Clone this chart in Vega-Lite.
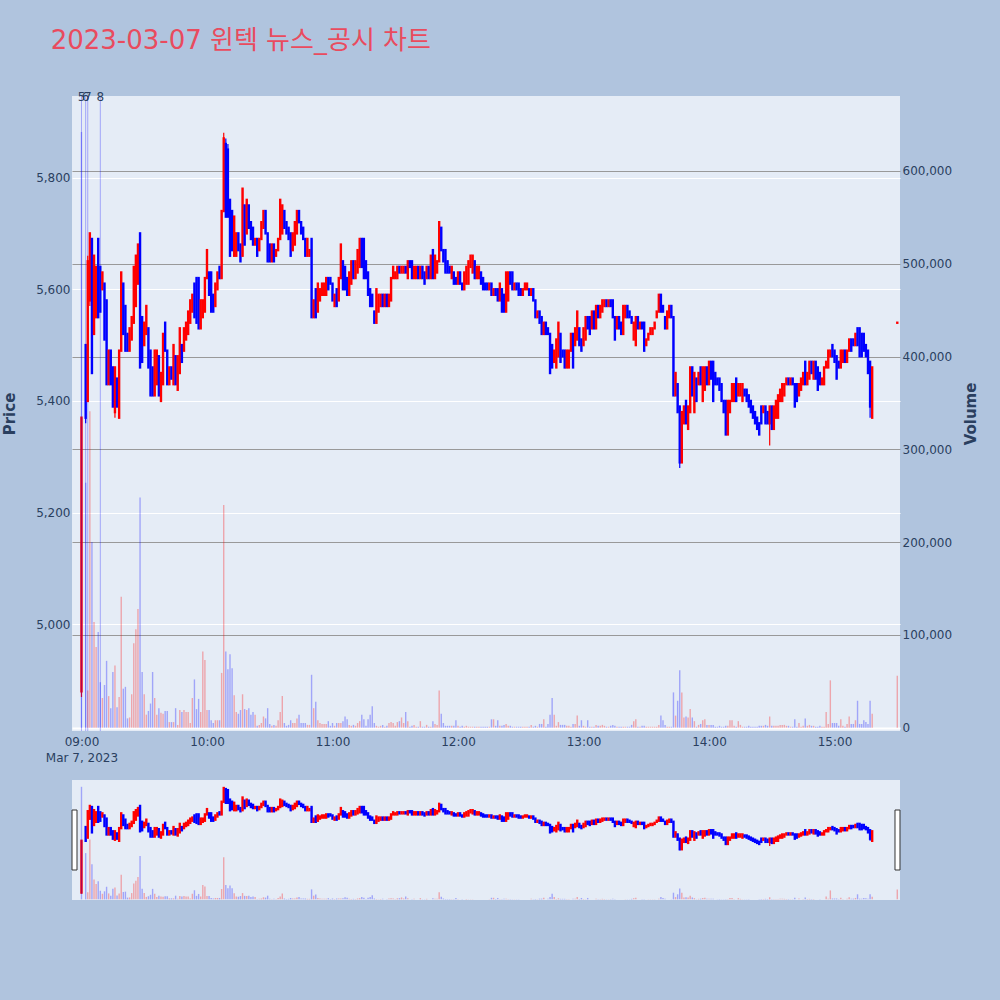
{
  "$schema": "https://vega.github.io/schema/vega-lite/v6.json",
  "background": "#B0C4DE",
  "padding": {"left": 2, "top": 28, "right": 21, "bottom": 99},
  "title": {
    "text": "2023-03-07 윈텍 뉴스_공시 차트",
    "anchor": "start",
    "font": "DejaVu Sans, Noto Sans CJK KR",
    "fontSize": 26,
    "fontWeight": "normal",
    "color": "#E94B5E",
    "dx": 48,
    "offset": 37
  },
  "data": {
    "format": {"parse": {"t": "date:'%Y-%m-%d %H:%M'"}},
    "values": [
      {"t":"2023-03-07 09:00","n":"5"},
      {"t":"2023-03-07 09:02","n":"6"},
      {"t":"2023-03-07 09:03","n":"7"},
      {"t":"2023-03-07 09:09","n":"8"},
      {"t":"2023-03-07 09:00","o":4880,"h":5370,"l":4870,"c":5370,"v":642000},
      {"t":"2023-03-07 09:02","o":5500,"h":5500,"l":5360,"c":5370,"v":264000},
      {"t":"2023-03-07 09:03","o":5400,"h":5660,"l":5400,"c":5650,"v":40000},
      {"t":"2023-03-07 09:04","o":5580,"h":5700,"l":5570,"c":5700,"v":341000},
      {"t":"2023-03-07 09:05","o":5690,"h":5690,"l":5450,"c":5450,"v":200000},
      {"t":"2023-03-07 09:06","o":5520,"h":5660,"l":5520,"c":5660,"v":114000},
      {"t":"2023-03-07 09:07","o":5550,"h":5640,"l":5550,"c":5640,"v":87000},
      {"t":"2023-03-07 09:08","o":5690,"h":5690,"l":5550,"c":5550,"v":103000},
      {"t":"2023-03-07 09:09","o":5640,"h":5640,"l":5560,"c":5560,"v":49000},
      {"t":"2023-03-07 09:10","o":5600,"h":5630,"l":5600,"c":5630,"v":32000},
      {"t":"2023-03-07 09:11","o":5610,"h":5610,"l":5510,"c":5510,"v":46000},
      {"t":"2023-03-07 09:12","o":5580,"h":5580,"l":5430,"c":5430,"v":72000},
      {"t":"2023-03-07 09:13","o":5430,"h":5490,"l":5430,"c":5490,"v":34000},
      {"t":"2023-03-07 09:14","o":5490,"h":5490,"l":5430,"c":5430,"v":21000},
      {"t":"2023-03-07 09:15","o":5460,"h":5460,"l":5390,"c":5390,"v":60000},
      {"t":"2023-03-07 09:16","o":5380,"h":5460,"l":5370,"c":5460,"v":67000},
      {"t":"2023-03-07 09:17","o":5440,"h":5440,"l":5390,"c":5390,"v":22000},
      {"t":"2023-03-07 09:18","o":5370,"h":5490,"l":5370,"c":5490,"v":33000},
      {"t":"2023-03-07 09:19","o":5490,"h":5630,"l":5490,"c":5630,"v":141000},
      {"t":"2023-03-07 09:20","o":5610,"h":5610,"l":5520,"c":5520,"v":42000},
      {"t":"2023-03-07 09:21","o":5570,"h":5570,"l":5490,"c":5490,"v":44000},
      {"t":"2023-03-07 09:22","o":5520,"h":5520,"l":5490,"c":5490,"v":10000},
      {"t":"2023-03-07 09:23","o":5490,"h":5530,"l":5490,"c":5530,"v":11000},
      {"t":"2023-03-07 09:24","o":5510,"h":5550,"l":5510,"c":5550,"v":36000},
      {"t":"2023-03-07 09:25","o":5540,"h":5640,"l":5540,"c":5640,"v":91000},
      {"t":"2023-03-07 09:26","o":5570,"h":5660,"l":5570,"c":5660,"v":106000},
      {"t":"2023-03-07 09:27","o":5610,"h":5680,"l":5610,"c":5680,"v":128000},
      {"t":"2023-03-07 09:28","o":5700,"h":5700,"l":5460,"c":5460,"v":248000},
      {"t":"2023-03-07 09:29","o":5550,"h":5550,"l":5470,"c":5470,"v":60000},
      {"t":"2023-03-07 09:30","o":5500,"h":5540,"l":5500,"c":5540,"v":36000},
      {"t":"2023-03-07 09:31","o":5520,"h":5570,"l":5520,"c":5570,"v":14000},
      {"t":"2023-03-07 09:32","o":5530,"h":5530,"l":5460,"c":5460,"v":18000},
      {"t":"2023-03-07 09:33","o":5490,"h":5490,"l":5410,"c":5410,"v":26000},
      {"t":"2023-03-07 09:34","o":5460,"h":5460,"l":5410,"c":5410,"v":60000},
      {"t":"2023-03-07 09:35","o":5410,"h":5490,"l":5410,"c":5490,"v":32000},
      {"t":"2023-03-07 09:36","o":5430,"h":5490,"l":5430,"c":5490,"v":14000},
      {"t":"2023-03-07 09:37","o":5480,"h":5480,"l":5410,"c":5410,"v":21000},
      {"t":"2023-03-07 09:38","o":5400,"h":5450,"l":5400,"c":5450,"v":16000},
      {"t":"2023-03-07 09:39","o":5430,"h":5520,"l":5430,"c":5520,"v":15000},
      {"t":"2023-03-07 09:40","o":5540,"h":5540,"l":5490,"c":5490,"v":18000},
      {"t":"2023-03-07 09:41","o":5490,"h":5490,"l":5430,"c":5430,"v":18000},
      {"t":"2023-03-07 09:42","o":5430,"h":5460,"l":5430,"c":5460,"v":6000},
      {"t":"2023-03-07 09:43","o":5460,"h":5460,"l":5440,"c":5440,"v":6000},
      {"t":"2023-03-07 09:44","o":5430,"h":5500,"l":5430,"c":5500,"v":6000},
      {"t":"2023-03-07 09:45","o":5480,"h":5480,"l":5430,"c":5430,"v":21000},
      {"t":"2023-03-07 09:46","o":5420,"h":5480,"l":5420,"c":5480,"v":3000},
      {"t":"2023-03-07 09:47","o":5450,"h":5530,"l":5450,"c":5530,"v":19000},
      {"t":"2023-03-07 09:48","o":5500,"h":5500,"l":5470,"c":5470,"v":17000},
      {"t":"2023-03-07 09:49","o":5490,"h":5530,"l":5490,"c":5530,"v":19000},
      {"t":"2023-03-07 09:50","o":5510,"h":5540,"l":5510,"c":5540,"v":17000},
      {"t":"2023-03-07 09:51","o":5520,"h":5560,"l":5520,"c":5560,"v":17000},
      {"t":"2023-03-07 09:52","o":5540,"h":5580,"l":5540,"c":5580,"v":5000},
      {"t":"2023-03-07 09:53","o":5560,"h":5590,"l":5560,"c":5590,"v":32000},
      {"t":"2023-03-07 09:54","o":5610,"h":5610,"l":5550,"c":5550,"v":52000},
      {"t":"2023-03-07 09:55","o":5620,"h":5620,"l":5540,"c":5540,"v":20000},
      {"t":"2023-03-07 09:56","o":5620,"h":5620,"l":5530,"c":5530,"v":31000},
      {"t":"2023-03-07 09:57","o":5530,"h":5580,"l":5530,"c":5580,"v":17000},
      {"t":"2023-03-07 09:58","o":5550,"h":5580,"l":5550,"c":5580,"v":82000},
      {"t":"2023-03-07 09:59","o":5560,"h":5620,"l":5560,"c":5620,"v":73000},
      {"t":"2023-03-07 10:00","o":5620,"h":5670,"l":5620,"c":5670,"v":19000},
      {"t":"2023-03-07 10:01","o":5630,"h":5630,"l":5590,"c":5590,"v":19000},
      {"t":"2023-03-07 10:02","o":5630,"h":5630,"l":5560,"c":5560,"v":8000},
      {"t":"2023-03-07 10:03","o":5590,"h":5590,"l":5560,"c":5560,"v":5000},
      {"t":"2023-03-07 10:04","o":5570,"h":5610,"l":5570,"c":5610,"v":8000},
      {"t":"2023-03-07 10:05","o":5600,"h":5630,"l":5600,"c":5630,"v":8000},
      {"t":"2023-03-07 10:06","o":5640,"h":5640,"l":5620,"c":5620,"v":8000},
      {"t":"2023-03-07 10:07","o":5620,"h":5740,"l":5620,"c":5740,"v":59000},
      {"t":"2023-03-07 10:08","o":5740,"h":5880,"l":5740,"c":5870,"v":240000},
      {"t":"2023-03-07 10:09","o":5860,"h":5870,"l":5730,"c":5730,"v":82000},
      {"t":"2023-03-07 10:10","o":5850,"h":5860,"l":5730,"c":5730,"v":63000},
      {"t":"2023-03-07 10:11","o":5760,"h":5760,"l":5660,"c":5660,"v":79000},
      {"t":"2023-03-07 10:12","o":5740,"h":5740,"l":5670,"c":5670,"v":64000},
      {"t":"2023-03-07 10:13","o":5660,"h":5730,"l":5660,"c":5730,"v":35000},
      {"t":"2023-03-07 10:14","o":5660,"h":5700,"l":5660,"c":5700,"v":17000},
      {"t":"2023-03-07 10:15","o":5700,"h":5700,"l":5670,"c":5670,"v":15000},
      {"t":"2023-03-07 10:16","o":5680,"h":5680,"l":5650,"c":5650,"v":19000},
      {"t":"2023-03-07 10:17","o":5660,"h":5780,"l":5660,"c":5780,"v":36000},
      {"t":"2023-03-07 10:18","o":5750,"h":5750,"l":5680,"c":5680,"v":20000},
      {"t":"2023-03-07 10:19","o":5700,"h":5760,"l":5700,"c":5760,"v":19000},
      {"t":"2023-03-07 10:20","o":5750,"h":5750,"l":5710,"c":5710,"v":21000},
      {"t":"2023-03-07 10:21","o":5720,"h":5720,"l":5690,"c":5690,"v":14000},
      {"t":"2023-03-07 10:22","o":5710,"h":5710,"l":5680,"c":5680,"v":17000},
      {"t":"2023-03-07 10:23","o":5680,"h":5690,"l":5680,"c":5690,"v":14000},
      {"t":"2023-03-07 10:24","o":5690,"h":5690,"l":5660,"c":5660,"v":2000},
      {"t":"2023-03-07 10:25","o":5670,"h":5690,"l":5670,"c":5690,"v":3000},
      {"t":"2023-03-07 10:26","o":5690,"h":5720,"l":5690,"c":5720,"v":5000},
      {"t":"2023-03-07 10:27","o":5710,"h":5740,"l":5710,"c":5740,"v":12000},
      {"t":"2023-03-07 10:28","o":5740,"h":5740,"l":5700,"c":5700,"v":10000},
      {"t":"2023-03-07 10:29","o":5700,"h":5700,"l":5650,"c":5650,"v":21000},
      {"t":"2023-03-07 10:30","o":5680,"h":5680,"l":5650,"c":5650,"v":4000},
      {"t":"2023-03-07 10:31","o":5650,"h":5680,"l":5650,"c":5680,"v":2000},
      {"t":"2023-03-07 10:32","o":5680,"h":5680,"l":5650,"c":5650,"v":3000},
      {"t":"2023-03-07 10:33","o":5660,"h":5670,"l":5660,"c":5670,"v":2000},
      {"t":"2023-03-07 10:34","o":5670,"h":5690,"l":5670,"c":5690,"v":8000},
      {"t":"2023-03-07 10:35","o":5690,"h":5760,"l":5690,"c":5760,"v":17000},
      {"t":"2023-03-07 10:36","o":5700,"h":5750,"l":5700,"c":5750,"v":34000},
      {"t":"2023-03-07 10:37","o":5740,"h":5740,"l":5710,"c":5710,"v":5000},
      {"t":"2023-03-07 10:38","o":5720,"h":5720,"l":5700,"c":5700,"v":2000},
      {"t":"2023-03-07 10:39","o":5710,"h":5710,"l":5690,"c":5690,"v":3000},
      {"t":"2023-03-07 10:40","o":5700,"h":5700,"l":5660,"c":5660,"v":8000},
      {"t":"2023-03-07 10:41","o":5670,"h":5700,"l":5670,"c":5700,"v":5000},
      {"t":"2023-03-07 10:42","o":5680,"h":5720,"l":5680,"c":5720,"v":5000},
      {"t":"2023-03-07 10:43","o":5700,"h":5740,"l":5700,"c":5740,"v":10000},
      {"t":"2023-03-07 10:44","o":5740,"h":5740,"l":5720,"c":5720,"v":14000},
      {"t":"2023-03-07 10:45","o":5720,"h":5720,"l":5700,"c":5700,"v":5000},
      {"t":"2023-03-07 10:46","o":5710,"h":5710,"l":5690,"c":5690,"v":5000},
      {"t":"2023-03-07 10:47","o":5690,"h":5690,"l":5660,"c":5660,"v":5000},
      {"t":"2023-03-07 10:48","o":5660,"h":5690,"l":5660,"c":5690,"v":3000},
      {"t":"2023-03-07 10:49","o":5660,"h":5670,"l":5660,"c":5670,"v":3000},
      {"t":"2023-03-07 10:50","o":5690,"h":5690,"l":5550,"c":5550,"v":57000},
      {"t":"2023-03-07 10:51","o":5550,"h":5580,"l":5550,"c":5580,"v":21000},
      {"t":"2023-03-07 10:52","o":5600,"h":5600,"l":5550,"c":5550,"v":28000},
      {"t":"2023-03-07 10:53","o":5560,"h":5610,"l":5560,"c":5610,"v":8000},
      {"t":"2023-03-07 10:54","o":5580,"h":5600,"l":5580,"c":5600,"v":5000},
      {"t":"2023-03-07 10:55","o":5590,"h":5610,"l":5590,"c":5610,"v":4000},
      {"t":"2023-03-07 10:56","o":5590,"h":5610,"l":5590,"c":5610,"v":4000},
      {"t":"2023-03-07 10:57","o":5590,"h":5620,"l":5590,"c":5620,"v":4000},
      {"t":"2023-03-07 10:58","o":5620,"h":5620,"l":5600,"c":5600,"v":7000},
      {"t":"2023-03-07 10:59","o":5620,"h":5620,"l":5610,"c":5610,"v":2000},
      {"t":"2023-03-07 11:00","o":5610,"h":5610,"l":5580,"c":5580,"v":5000},
      {"t":"2023-03-07 11:01","o":5570,"h":5590,"l":5570,"c":5590,"v":2000},
      {"t":"2023-03-07 11:02","o":5600,"h":5600,"l":5570,"c":5570,"v":5000},
      {"t":"2023-03-07 11:03","o":5580,"h":5620,"l":5580,"c":5620,"v":5000},
      {"t":"2023-03-07 11:04","o":5620,"h":5680,"l":5620,"c":5680,"v":5000},
      {"t":"2023-03-07 11:05","o":5650,"h":5650,"l":5600,"c":5600,"v":7000},
      {"t":"2023-03-07 11:06","o":5640,"h":5640,"l":5600,"c":5600,"v":12000},
      {"t":"2023-03-07 11:07","o":5620,"h":5620,"l":5590,"c":5590,"v":9000},
      {"t":"2023-03-07 11:08","o":5590,"h":5630,"l":5590,"c":5630,"v":3000},
      {"t":"2023-03-07 11:09","o":5610,"h":5650,"l":5610,"c":5650,"v":2000},
      {"t":"2023-03-07 11:10","o":5650,"h":5650,"l":5620,"c":5620,"v":3000},
      {"t":"2023-03-07 11:11","o":5620,"h":5650,"l":5620,"c":5650,"v":2000},
      {"t":"2023-03-07 11:12","o":5630,"h":5670,"l":5630,"c":5670,"v":5000},
      {"t":"2023-03-07 11:13","o":5640,"h":5690,"l":5640,"c":5690,"v":7000},
      {"t":"2023-03-07 11:14","o":5690,"h":5690,"l":5640,"c":5640,"v":14000},
      {"t":"2023-03-07 11:15","o":5690,"h":5690,"l":5620,"c":5620,"v":9000},
      {"t":"2023-03-07 11:16","o":5650,"h":5650,"l":5620,"c":5620,"v":2000},
      {"t":"2023-03-07 11:17","o":5630,"h":5630,"l":5590,"c":5590,"v":9000},
      {"t":"2023-03-07 11:18","o":5600,"h":5600,"l":5570,"c":5570,"v":14000},
      {"t":"2023-03-07 11:19","o":5590,"h":5590,"l":5570,"c":5570,"v":23000},
      {"t":"2023-03-07 11:20","o":5560,"h":5560,"l":5540,"c":5540,"v":5000},
      {"t":"2023-03-07 11:21","o":5540,"h":5600,"l":5540,"c":5600,"v":2000},
      {"t":"2023-03-07 11:22","o":5560,"h":5590,"l":5560,"c":5590,"v":1000},
      {"t":"2023-03-07 11:23","o":5570,"h":5590,"l":5570,"c":5590,"v":2000},
      {"t":"2023-03-07 11:24","o":5590,"h":5590,"l":5570,"c":5570,"v":3000},
      {"t":"2023-03-07 11:25","o":5570,"h":5590,"l":5570,"c":5590,"v":1000},
      {"t":"2023-03-07 11:26","o":5590,"h":5590,"l":5570,"c":5570,"v":2000},
      {"t":"2023-03-07 11:27","o":5570,"h":5590,"l":5570,"c":5590,"v":5000},
      {"t":"2023-03-07 11:28","o":5580,"h":5620,"l":5580,"c":5620,"v":6000},
      {"t":"2023-03-07 11:29","o":5620,"h":5640,"l":5620,"c":5640,"v":5000},
      {"t":"2023-03-07 11:30","o":5620,"h":5630,"l":5620,"c":5630,"v":2000},
      {"t":"2023-03-07 11:31","o":5620,"h":5640,"l":5620,"c":5640,"v":6000},
      {"t":"2023-03-07 11:32","o":5640,"h":5640,"l":5630,"c":5630,"v":7000},
      {"t":"2023-03-07 11:33","o":5630,"h":5640,"l":5630,"c":5640,"v":11000},
      {"t":"2023-03-07 11:34","o":5630,"h":5640,"l":5630,"c":5640,"v":5000},
      {"t":"2023-03-07 11:35","o":5640,"h":5640,"l":5630,"c":5630,"v":17000},
      {"t":"2023-03-07 11:36","o":5620,"h":5650,"l":5620,"c":5650,"v":7000},
      {"t":"2023-03-07 11:37","o":5650,"h":5650,"l":5640,"c":5640,"v":1000},
      {"t":"2023-03-07 11:38","o":5650,"h":5650,"l":5620,"c":5620,"v":2000},
      {"t":"2023-03-07 11:39","o":5620,"h":5640,"l":5620,"c":5640,"v":3000},
      {"t":"2023-03-07 11:40","o":5620,"h":5640,"l":5620,"c":5640,"v":1000},
      {"t":"2023-03-07 11:41","o":5640,"h":5640,"l":5620,"c":5620,"v":1000},
      {"t":"2023-03-07 11:42","o":5620,"h":5640,"l":5620,"c":5640,"v":7000},
      {"t":"2023-03-07 11:43","o":5640,"h":5640,"l":5620,"c":5620,"v":1000},
      {"t":"2023-03-07 11:44","o":5630,"h":5630,"l":5610,"c":5610,"v":1000},
      {"t":"2023-03-07 11:45","o":5620,"h":5640,"l":5620,"c":5640,"v":3000},
      {"t":"2023-03-07 11:46","o":5640,"h":5640,"l":5620,"c":5620,"v":1000},
      {"t":"2023-03-07 11:47","o":5620,"h":5660,"l":5620,"c":5660,"v":1000},
      {"t":"2023-03-07 11:48","o":5670,"h":5670,"l":5620,"c":5620,"v":7000},
      {"t":"2023-03-07 11:49","o":5620,"h":5660,"l":5620,"c":5660,"v":4000},
      {"t":"2023-03-07 11:50","o":5630,"h":5650,"l":5630,"c":5650,"v":3000},
      {"t":"2023-03-07 11:51","o":5650,"h":5720,"l":5650,"c":5720,"v":40000},
      {"t":"2023-03-07 11:52","o":5710,"h":5710,"l":5670,"c":5670,"v":15000},
      {"t":"2023-03-07 11:53","o":5670,"h":5670,"l":5650,"c":5650,"v":5000},
      {"t":"2023-03-07 11:54","o":5670,"h":5670,"l":5630,"c":5630,"v":2000},
      {"t":"2023-03-07 11:55","o":5650,"h":5650,"l":5630,"c":5630,"v":2000},
      {"t":"2023-03-07 11:56","o":5640,"h":5640,"l":5630,"c":5630,"v":2000},
      {"t":"2023-03-07 11:57","o":5620,"h":5640,"l":5620,"c":5640,"v":2000},
      {"t":"2023-03-07 11:58","o":5630,"h":5630,"l":5610,"c":5610,"v":2000},
      {"t":"2023-03-07 11:59","o":5620,"h":5620,"l":5610,"c":5610,"v":8000},
      {"t":"2023-03-07 12:00","o":5610,"h":5630,"l":5610,"c":5630,"v":2000},
      {"t":"2023-03-07 12:01","o":5630,"h":5630,"l":5610,"c":5610,"v":1000},
      {"t":"2023-03-07 12:02","o":5610,"h":5610,"l":5600,"c":5600,"v":2000},
      {"t":"2023-03-07 12:03","o":5600,"h":5630,"l":5600,"c":5630,"v":1000},
      {"t":"2023-03-07 12:04","o":5610,"h":5640,"l":5610,"c":5640,"v":2000},
      {"t":"2023-03-07 12:05","o":5610,"h":5650,"l":5610,"c":5650,"v":1000},
      {"t":"2023-03-07 12:06","o":5640,"h":5660,"l":5640,"c":5660,"v":1000},
      {"t":"2023-03-07 12:07","o":5630,"h":5660,"l":5630,"c":5660,"v":1000},
      {"t":"2023-03-07 12:08","o":5650,"h":5650,"l":5620,"c":5620,"v":1000},
      {"t":"2023-03-07 12:09","o":5620,"h":5640,"l":5620,"c":5640,"v":1000},
      {"t":"2023-03-07 12:10","o":5620,"h":5640,"l":5620,"c":5640,"v":1000},
      {"t":"2023-03-07 12:11","o":5630,"h":5630,"l":5610,"c":5610,"v":1000},
      {"t":"2023-03-07 12:12","o":5620,"h":5620,"l":5600,"c":5600,"v":1000},
      {"t":"2023-03-07 12:13","o":5610,"h":5610,"l":5600,"c":5600,"v":1000},
      {"t":"2023-03-07 12:14","o":5610,"h":5610,"l":5600,"c":5600,"v":1000},
      {"t":"2023-03-07 12:15","o":5600,"h":5610,"l":5600,"c":5610,"v":1000},
      {"t":"2023-03-07 12:16","o":5610,"h":5610,"l":5590,"c":5590,"v":9000},
      {"t":"2023-03-07 12:17","o":5590,"h":5600,"l":5590,"c":5600,"v":9000},
      {"t":"2023-03-07 12:18","o":5600,"h":5600,"l":5590,"c":5590,"v":2000},
      {"t":"2023-03-07 12:19","o":5600,"h":5600,"l":5580,"c":5580,"v":8000},
      {"t":"2023-03-07 12:20","o":5580,"h":5610,"l":5580,"c":5610,"v":2000},
      {"t":"2023-03-07 12:21","o":5600,"h":5600,"l":5560,"c":5560,"v":2000},
      {"t":"2023-03-07 12:22","o":5590,"h":5590,"l":5560,"c":5560,"v":3000},
      {"t":"2023-03-07 12:23","o":5560,"h":5630,"l":5560,"c":5630,"v":4000},
      {"t":"2023-03-07 12:24","o":5580,"h":5630,"l":5580,"c":5630,"v":2000},
      {"t":"2023-03-07 12:25","o":5630,"h":5630,"l":5610,"c":5610,"v":2000},
      {"t":"2023-03-07 12:26","o":5630,"h":5630,"l":5600,"c":5600,"v":1000},
      {"t":"2023-03-07 12:27","o":5600,"h":5610,"l":5600,"c":5610,"v":1000},
      {"t":"2023-03-07 12:28","o":5610,"h":5610,"l":5600,"c":5600,"v":1000},
      {"t":"2023-03-07 12:29","o":5610,"h":5610,"l":5590,"c":5590,"v":1000},
      {"t":"2023-03-07 12:30","o":5600,"h":5600,"l":5590,"c":5590,"v":1000},
      {"t":"2023-03-07 12:31","o":5590,"h":5600,"l":5590,"c":5600,"v":1000},
      {"t":"2023-03-07 12:32","o":5600,"h":5610,"l":5600,"c":5610,"v":1000},
      {"t":"2023-03-07 12:33","o":5600,"h":5610,"l":5600,"c":5610,"v":1000},
      {"t":"2023-03-07 12:34","o":5600,"h":5600,"l":5590,"c":5590,"v":1000},
      {"t":"2023-03-07 12:35","o":5590,"h":5600,"l":5590,"c":5600,"v":3000},
      {"t":"2023-03-07 12:36","o":5600,"h":5600,"l":5580,"c":5580,"v":1000},
      {"t":"2023-03-07 12:37","o":5580,"h":5580,"l":5550,"c":5550,"v":2000},
      {"t":"2023-03-07 12:38","o":5550,"h":5560,"l":5550,"c":5560,"v":1000},
      {"t":"2023-03-07 12:39","o":5560,"h":5560,"l":5540,"c":5540,"v":4000},
      {"t":"2023-03-07 12:40","o":5550,"h":5550,"l":5520,"c":5520,"v":4000},
      {"t":"2023-03-07 12:41","o":5520,"h":5540,"l":5520,"c":5540,"v":9000},
      {"t":"2023-03-07 12:42","o":5540,"h":5540,"l":5520,"c":5520,"v":1000},
      {"t":"2023-03-07 12:43","o":5530,"h":5530,"l":5520,"c":5520,"v":4000},
      {"t":"2023-03-07 12:44","o":5520,"h":5520,"l":5450,"c":5450,"v":14000},
      {"t":"2023-03-07 12:45","o":5500,"h":5500,"l":5460,"c":5460,"v":32000},
      {"t":"2023-03-07 12:46","o":5470,"h":5490,"l":5470,"c":5490,"v":14000},
      {"t":"2023-03-07 12:47","o":5460,"h":5510,"l":5460,"c":5510,"v":2000},
      {"t":"2023-03-07 12:48","o":5480,"h":5540,"l":5480,"c":5540,"v":6000},
      {"t":"2023-03-07 12:49","o":5520,"h":5520,"l":5470,"c":5470,"v":3000},
      {"t":"2023-03-07 12:50","o":5490,"h":5490,"l":5480,"c":5480,"v":3000},
      {"t":"2023-03-07 12:51","o":5490,"h":5490,"l":5460,"c":5460,"v":3000},
      {"t":"2023-03-07 12:52","o":5460,"h":5490,"l":5460,"c":5490,"v":2000},
      {"t":"2023-03-07 12:53","o":5460,"h":5490,"l":5460,"c":5490,"v":2000},
      {"t":"2023-03-07 12:54","o":5490,"h":5520,"l":5490,"c":5520,"v":1000},
      {"t":"2023-03-07 12:55","o":5520,"h":5520,"l":5460,"c":5460,"v":4000},
      {"t":"2023-03-07 12:56","o":5500,"h":5530,"l":5500,"c":5530,"v":4000},
      {"t":"2023-03-07 12:57","o":5510,"h":5560,"l":5510,"c":5560,"v":13000},
      {"t":"2023-03-07 12:58","o":5530,"h":5530,"l":5500,"c":5500,"v":2000},
      {"t":"2023-03-07 12:59","o":5510,"h":5510,"l":5490,"c":5490,"v":8000},
      {"t":"2023-03-07 13:00","o":5500,"h":5530,"l":5500,"c":5530,"v":2000},
      {"t":"2023-03-07 13:01","o":5510,"h":5550,"l":5510,"c":5550,"v":1000},
      {"t":"2023-03-07 13:02","o":5550,"h":5550,"l":5530,"c":5530,"v":8000},
      {"t":"2023-03-07 13:03","o":5550,"h":5550,"l":5520,"c":5520,"v":1000},
      {"t":"2023-03-07 13:04","o":5530,"h":5560,"l":5530,"c":5560,"v":1000},
      {"t":"2023-03-07 13:05","o":5560,"h":5560,"l":5530,"c":5530,"v":1000},
      {"t":"2023-03-07 13:06","o":5530,"h":5570,"l":5530,"c":5570,"v":3000},
      {"t":"2023-03-07 13:07","o":5570,"h":5570,"l":5550,"c":5550,"v":2000},
      {"t":"2023-03-07 13:08","o":5550,"h":5570,"l":5550,"c":5570,"v":2000},
      {"t":"2023-03-07 13:09","o":5560,"h":5580,"l":5560,"c":5580,"v":3000},
      {"t":"2023-03-07 13:10","o":5570,"h":5580,"l":5570,"c":5580,"v":2000},
      {"t":"2023-03-07 13:11","o":5580,"h":5580,"l":5570,"c":5570,"v":1000},
      {"t":"2023-03-07 13:12","o":5570,"h":5580,"l":5570,"c":5580,"v":1000},
      {"t":"2023-03-07 13:13","o":5580,"h":5580,"l":5570,"c":5570,"v":2000},
      {"t":"2023-03-07 13:14","o":5580,"h":5580,"l":5550,"c":5550,"v":3000},
      {"t":"2023-03-07 13:15","o":5550,"h":5550,"l":5510,"c":5510,"v":2000},
      {"t":"2023-03-07 13:16","o":5530,"h":5550,"l":5530,"c":5550,"v":1000},
      {"t":"2023-03-07 13:17","o":5550,"h":5550,"l":5530,"c":5530,"v":1000},
      {"t":"2023-03-07 13:18","o":5540,"h":5540,"l":5520,"c":5520,"v":1000},
      {"t":"2023-03-07 13:19","o":5520,"h":5570,"l":5520,"c":5570,"v":1000},
      {"t":"2023-03-07 13:20","o":5550,"h":5570,"l":5550,"c":5570,"v":1000},
      {"t":"2023-03-07 13:21","o":5570,"h":5570,"l":5550,"c":5550,"v":1000},
      {"t":"2023-03-07 13:22","o":5560,"h":5560,"l":5550,"c":5550,"v":1000},
      {"t":"2023-03-07 13:23","o":5550,"h":5550,"l":5540,"c":5540,"v":3000},
      {"t":"2023-03-07 13:24","o":5510,"h":5540,"l":5510,"c":5540,"v":7000},
      {"t":"2023-03-07 13:25","o":5500,"h":5550,"l":5500,"c":5550,"v":9000},
      {"t":"2023-03-07 13:26","o":5550,"h":5550,"l":5530,"c":5530,"v":1000},
      {"t":"2023-03-07 13:27","o":5530,"h":5540,"l":5530,"c":5540,"v":1000},
      {"t":"2023-03-07 13:28","o":5540,"h":5540,"l":5530,"c":5530,"v":2000},
      {"t":"2023-03-07 13:29","o":5540,"h":5540,"l":5490,"c":5490,"v":2000},
      {"t":"2023-03-07 13:30","o":5500,"h":5510,"l":5500,"c":5510,"v":1000},
      {"t":"2023-03-07 13:31","o":5510,"h":5520,"l":5510,"c":5520,"v":1000},
      {"t":"2023-03-07 13:32","o":5520,"h":5530,"l":5520,"c":5530,"v":1000},
      {"t":"2023-03-07 13:33","o":5520,"h":5530,"l":5520,"c":5530,"v":1000},
      {"t":"2023-03-07 13:34","o":5530,"h":5540,"l":5530,"c":5540,"v":1000},
      {"t":"2023-03-07 13:35","o":5550,"h":5560,"l":5550,"c":5560,"v":1000},
      {"t":"2023-03-07 13:36","o":5560,"h":5590,"l":5560,"c":5590,"v":3000},
      {"t":"2023-03-07 13:37","o":5590,"h":5590,"l":5560,"c":5560,"v":13000},
      {"t":"2023-03-07 13:38","o":5570,"h":5570,"l":5560,"c":5560,"v":8000},
      {"t":"2023-03-07 13:39","o":5550,"h":5550,"l":5530,"c":5530,"v":3000},
      {"t":"2023-03-07 13:40","o":5530,"h":5560,"l":5530,"c":5560,"v":1000},
      {"t":"2023-03-07 13:41","o":5550,"h":5570,"l":5550,"c":5570,"v":1000},
      {"t":"2023-03-07 13:42","o":5570,"h":5570,"l":5550,"c":5550,"v":1000},
      {"t":"2023-03-07 13:43","o":5550,"h":5550,"l":5410,"c":5410,"v":38000},
      {"t":"2023-03-07 13:44","o":5410,"h":5450,"l":5410,"c":5450,"v":13000},
      {"t":"2023-03-07 13:45","o":5430,"h":5430,"l":5380,"c":5380,"v":29000},
      {"t":"2023-03-07 13:46","o":5390,"h":5390,"l":5280,"c":5290,"v":62000},
      {"t":"2023-03-07 13:47","o":5290,"h":5380,"l":5290,"c":5380,"v":38000},
      {"t":"2023-03-07 13:48","o":5360,"h":5390,"l":5360,"c":5390,"v":11000},
      {"t":"2023-03-07 13:49","o":5400,"h":5400,"l":5360,"c":5360,"v":12000},
      {"t":"2023-03-07 13:50","o":5350,"h":5390,"l":5350,"c":5390,"v":11000},
      {"t":"2023-03-07 13:51","o":5380,"h":5460,"l":5380,"c":5460,"v":20000},
      {"t":"2023-03-07 13:52","o":5460,"h":5460,"l":5410,"c":5410,"v":11000},
      {"t":"2023-03-07 13:53","o":5380,"h":5450,"l":5380,"c":5450,"v":7000},
      {"t":"2023-03-07 13:54","o":5440,"h":5440,"l":5400,"c":5400,"v":1000},
      {"t":"2023-03-07 13:55","o":5430,"h":5450,"l":5430,"c":5450,"v":3000},
      {"t":"2023-03-07 13:56","o":5460,"h":5460,"l":5430,"c":5430,"v":4000},
      {"t":"2023-03-07 13:57","o":5400,"h":5460,"l":5400,"c":5460,"v":8000},
      {"t":"2023-03-07 13:58","o":5420,"h":5460,"l":5420,"c":5460,"v":9000},
      {"t":"2023-03-07 13:59","o":5460,"h":5460,"l":5430,"c":5430,"v":3000},
      {"t":"2023-03-07 14:00","o":5430,"h":5470,"l":5430,"c":5470,"v":3000},
      {"t":"2023-03-07 14:01","o":5470,"h":5470,"l":5440,"c":5440,"v":3000},
      {"t":"2023-03-07 14:02","o":5470,"h":5470,"l":5400,"c":5400,"v":3000},
      {"t":"2023-03-07 14:03","o":5450,"h":5450,"l":5430,"c":5430,"v":1000},
      {"t":"2023-03-07 14:04","o":5440,"h":5440,"l":5430,"c":5430,"v":1000},
      {"t":"2023-03-07 14:05","o":5440,"h":5440,"l":5420,"c":5420,"v":2000},
      {"t":"2023-03-07 14:06","o":5430,"h":5430,"l":5400,"c":5400,"v":1000},
      {"t":"2023-03-07 14:07","o":5400,"h":5400,"l":5380,"c":5380,"v":1000},
      {"t":"2023-03-07 14:08","o":5400,"h":5400,"l":5340,"c":5340,"v":2000},
      {"t":"2023-03-07 14:09","o":5340,"h":5400,"l":5340,"c":5400,"v":2000},
      {"t":"2023-03-07 14:10","o":5380,"h":5400,"l":5380,"c":5400,"v":8000},
      {"t":"2023-03-07 14:11","o":5400,"h":5430,"l":5400,"c":5430,"v":8000},
      {"t":"2023-03-07 14:12","o":5400,"h":5430,"l":5400,"c":5430,"v":2000},
      {"t":"2023-03-07 14:13","o":5440,"h":5440,"l":5400,"c":5400,"v":1000},
      {"t":"2023-03-07 14:14","o":5410,"h":5430,"l":5410,"c":5430,"v":7000},
      {"t":"2023-03-07 14:15","o":5410,"h":5430,"l":5410,"c":5430,"v":3000},
      {"t":"2023-03-07 14:16","o":5400,"h":5430,"l":5400,"c":5430,"v":1000},
      {"t":"2023-03-07 14:17","o":5420,"h":5420,"l":5410,"c":5410,"v":1000},
      {"t":"2023-03-07 14:18","o":5420,"h":5420,"l":5400,"c":5400,"v":1000},
      {"t":"2023-03-07 14:19","o":5410,"h":5410,"l":5390,"c":5390,"v":2000},
      {"t":"2023-03-07 14:20","o":5400,"h":5400,"l":5380,"c":5380,"v":1000},
      {"t":"2023-03-07 14:21","o":5390,"h":5390,"l":5370,"c":5370,"v":1000},
      {"t":"2023-03-07 14:22","o":5380,"h":5380,"l":5360,"c":5360,"v":1000},
      {"t":"2023-03-07 14:23","o":5370,"h":5370,"l":5350,"c":5350,"v":1000},
      {"t":"2023-03-07 14:24","o":5360,"h":5360,"l":5340,"c":5340,"v":2000},
      {"t":"2023-03-07 14:25","o":5390,"h":5390,"l":5360,"c":5360,"v":2000},
      {"t":"2023-03-07 14:26","o":5380,"h":5390,"l":5380,"c":5390,"v":2000},
      {"t":"2023-03-07 14:27","o":5390,"h":5390,"l":5360,"c":5360,"v":3000},
      {"t":"2023-03-07 14:28","o":5380,"h":5380,"l":5360,"c":5360,"v":2000},
      {"t":"2023-03-07 14:29","o":5360,"h":5390,"l":5320,"c":5390,"v":12000},
      {"t":"2023-03-07 14:30","o":5390,"h":5390,"l":5350,"c":5350,"v":2000},
      {"t":"2023-03-07 14:31","o":5350,"h":5390,"l":5350,"c":5390,"v":2000},
      {"t":"2023-03-07 14:32","o":5370,"h":5400,"l":5370,"c":5400,"v":2000},
      {"t":"2023-03-07 14:33","o":5370,"h":5410,"l":5370,"c":5410,"v":2000},
      {"t":"2023-03-07 14:34","o":5400,"h":5420,"l":5400,"c":5420,"v":3000},
      {"t":"2023-03-07 14:35","o":5400,"h":5430,"l":5400,"c":5430,"v":3000},
      {"t":"2023-03-07 14:36","o":5410,"h":5430,"l":5410,"c":5430,"v":3000},
      {"t":"2023-03-07 14:37","o":5430,"h":5440,"l":5430,"c":5440,"v":2000},
      {"t":"2023-03-07 14:38","o":5440,"h":5440,"l":5430,"c":5430,"v":2000},
      {"t":"2023-03-07 14:39","o":5430,"h":5440,"l":5430,"c":5440,"v":1000},
      {"t":"2023-03-07 14:40","o":5440,"h":5440,"l":5430,"c":5430,"v":1000},
      {"t":"2023-03-07 14:41","o":5430,"h":5430,"l":5390,"c":5390,"v":9000},
      {"t":"2023-03-07 14:42","o":5430,"h":5430,"l":5400,"c":5400,"v":1000},
      {"t":"2023-03-07 14:43","o":5410,"h":5430,"l":5410,"c":5430,"v":5000},
      {"t":"2023-03-07 14:44","o":5420,"h":5440,"l":5420,"c":5440,"v":1000},
      {"t":"2023-03-07 14:45","o":5430,"h":5450,"l":5430,"c":5450,"v":2000},
      {"t":"2023-03-07 14:46","o":5470,"h":5470,"l":5430,"c":5430,"v":10000},
      {"t":"2023-03-07 14:47","o":5430,"h":5450,"l":5430,"c":5450,"v":2000},
      {"t":"2023-03-07 14:48","o":5440,"h":5470,"l":5440,"c":5470,"v":3000},
      {"t":"2023-03-07 14:49","o":5470,"h":5470,"l":5450,"c":5450,"v":2000},
      {"t":"2023-03-07 14:50","o":5440,"h":5470,"l":5440,"c":5470,"v":2000},
      {"t":"2023-03-07 14:51","o":5470,"h":5470,"l":5440,"c":5440,"v":1000},
      {"t":"2023-03-07 14:52","o":5460,"h":5460,"l":5420,"c":5420,"v":1000},
      {"t":"2023-03-07 14:53","o":5450,"h":5450,"l":5430,"c":5430,"v":2000},
      {"t":"2023-03-07 14:54","o":5430,"h":5440,"l":5430,"c":5440,"v":1000},
      {"t":"2023-03-07 14:55","o":5430,"h":5460,"l":5430,"c":5460,"v":1000},
      {"t":"2023-03-07 14:56","o":5460,"h":5470,"l":5460,"c":5470,"v":17000},
      {"t":"2023-03-07 14:57","o":5460,"h":5490,"l":5460,"c":5490,"v":4000},
      {"t":"2023-03-07 14:58","o":5480,"h":5490,"l":5480,"c":5490,"v":51000},
      {"t":"2023-03-07 14:59","o":5500,"h":5500,"l":5480,"c":5480,"v":5000},
      {"t":"2023-03-07 15:00","o":5490,"h":5490,"l":5470,"c":5470,"v":5000},
      {"t":"2023-03-07 15:01","o":5480,"h":5480,"l":5440,"c":5440,"v":5000},
      {"t":"2023-03-07 15:02","o":5470,"h":5470,"l":5460,"c":5460,"v":2000},
      {"t":"2023-03-07 15:03","o":5460,"h":5490,"l":5460,"c":5490,"v":9000},
      {"t":"2023-03-07 15:04","o":5470,"h":5490,"l":5470,"c":5490,"v":2000},
      {"t":"2023-03-07 15:05","o":5490,"h":5490,"l":5470,"c":5470,"v":1000},
      {"t":"2023-03-07 15:06","o":5470,"h":5490,"l":5470,"c":5490,"v":4000},
      {"t":"2023-03-07 15:07","o":5490,"h":5510,"l":5490,"c":5510,"v":12000},
      {"t":"2023-03-07 15:08","o":5510,"h":5510,"l":5490,"c":5490,"v":4000},
      {"t":"2023-03-07 15:09","o":5510,"h":5510,"l":5500,"c":5500,"v":4000},
      {"t":"2023-03-07 15:10","o":5500,"h":5520,"l":5500,"c":5520,"v":8000},
      {"t":"2023-03-07 15:11","o":5530,"h":5530,"l":5500,"c":5500,"v":29000},
      {"t":"2023-03-07 15:12","o":5530,"h":5530,"l":5480,"c":5480,"v":4000},
      {"t":"2023-03-07 15:13","o":5520,"h":5520,"l":5480,"c":5480,"v":4000},
      {"t":"2023-03-07 15:14","o":5520,"h":5520,"l":5490,"c":5490,"v":8000},
      {"t":"2023-03-07 15:15","o":5500,"h":5500,"l":5480,"c":5480,"v":6000},
      {"t":"2023-03-07 15:16","o":5490,"h":5490,"l":5450,"c":5450,"v":4000},
      {"t":"2023-03-07 15:17","o":5470,"h":5470,"l":5370,"c":5390,"v":29000},
      {"t":"2023-03-07 15:18","o":5370,"h":5460,"l":5370,"c":5460,"v":15000},
      {"t":"2023-03-07 15:30","o":5540,"h":5540,"l":5540,"c":5540,"v":56000}
    ]
  },
  "transform": [
    {"window": [{"op": "lag", "field": "c", "as": "pc"}], "groupby": ["n"], "sort": [{"field": "t", "order": "ascending"}]},
    {"calculate": "datum.c > datum.o || (datum.c == datum.o && datum.pc != null && datum.c > datum.pc) ? 'up' : 'down'", "as": "dir"},
    {"calculate": "datum.pc == null ? 'down' : datum.dir", "as": "vdir"}
  ],
  "spacing": 17,
  "vconcat": [
    {
      "width": 828,
      "height": 635,
      "encoding": {
        "x": {
          "field": "t",
          "type": "temporal",
          "scale": {"domain": [
            {"year": 2023, "month": 3, "date": 7, "hours": 8, "minutes": 55, "seconds": 28},
            {"year": 2023, "month": 3, "date": 7, "hours": 15, "minutes": 31, "seconds": 18}
          ]},
          "axis": {
            "title": null,
            "grid": false,
            "labelPadding": 5,
            "labelLineHeight": 16,
            "values": [
              {"year": 2023, "month": 3, "date": 7, "hours": 9},
              {"year": 2023, "month": 3, "date": 7, "hours": 10},
              {"year": 2023, "month": 3, "date": 7, "hours": 11},
              {"year": 2023, "month": 3, "date": 7, "hours": 12},
              {"year": 2023, "month": 3, "date": 7, "hours": 13},
              {"year": 2023, "month": 3, "date": 7, "hours": 14},
              {"year": 2023, "month": 3, "date": 7, "hours": 15}
            ],
            "labelExpr": "hours(datum.value) == 9 ? ['09:00', 'Mar 7, 2023'] : timeFormat(datum.value, '%H:%M')"
          }
        }
      },
      "layer": [
        {
          "layer": [
            {
              "transform": [{"filter": "datum.n != null"}],
              "mark": {"type": "rule", "color": "#0000FF", "opacity": 0.3, "strokeWidth": 1},
              "encoding": {}
            },
            {
              "transform": [{"filter": "datum.n == null"}],
              "mark": {"type": "rule", "strokeWidth": 1.2},
              "encoding": {
                "y": {
                  "field": "l",
                  "type": "quantitative",
                  "scale": {"domain": [4809, 5946], "nice": false, "zero": false},
                  "axis": {
                    "title": "Price",
                    "titleFontSize": 15,
                    "titleFontWeight": "bold",
                    "titlePadding": 18,
                    "labelPadding": 2,
                    "values": [5000, 5200, 5400, 5600, 5800],
                    "format": ",.0f",
                    "grid": true,
                    "gridColor": "#FFFFFF",
                    "gridWidth": 1
                  }
                },
                "y2": {"field": "h"},
                "color": {"field": "dir", "type": "nominal", "scale": {"domain": ["up", "down"], "range": ["#FF0000", "#0000FF"]}, "legend": null}
              }
            },
            {
              "transform": [{"filter": "datum.n == null"}],
              "mark": {"type": "rule", "strokeWidth": 2.4, "strokeCap": "square"},
              "encoding": {
                "y": {"field": "o", "type": "quantitative"},
                "y2": {"field": "c"},
                "color": {"field": "dir", "type": "nominal", "scale": {"domain": ["up", "down"], "range": ["#FF0000", "#0000FF"]}, "legend": null}
              }
            },
            {
              "transform": [{"filter": "datum.n != null"}],
              "mark": {"type": "text", "font": "DejaVu Sans", "fontSize": 12, "color": "#2a3f5f", "baseline": "alphabetic", "align": "center"},
              "encoding": {
                "y": {"datum": 5937},
                "text": {"field": "n"}
              }
            }
          ]
        },
        {
          "transform": [{"filter": "datum.n == null"}],
          "mark": {"type": "rule", "strokeWidth": 1.4, "opacity": 0.3},
          "encoding": {
            "y": {
              "field": "v",
              "type": "quantitative",
              "scale": {"domain": [-3600, 680800], "nice": false, "zero": false},
              "axis": {
                "orient": "right",
                "title": "Volume",
                "titleFontSize": 15,
                "titleFontWeight": "bold",
                "titleAngle": -90,
                "titleBaseline": "top",
                "titlePadding": 12,
                "labelPadding": 2,
                "values": [0, 100000, 200000, 300000, 400000, 500000, 600000],
                "format": ",.0f",
                "grid": true,
                "gridColor": {"condition": {"test": "datum.value === 0", "value": "#FFFFFF"}, "value": "#999999"},
                "gridWidth": {"condition": {"test": "datum.value === 0", "value": 2}, "value": 1}
              }
            },
            "y2": {"datum": 0},
            "color": {"field": "vdir", "type": "nominal", "scale": {"domain": ["up", "down"], "range": ["#FF0000", "#0000FF"]}, "legend": null}
          }
        }
      ],
      "resolve": {"scale": {"y": "independent", "color": "shared"}}
    },
    {
      "width": 828,
      "height": 120,
      "encoding": {
        "x": {
          "field": "t",
          "type": "temporal",
          "axis": null,
          "scale": {"domain": [
            {"year": 2023, "month": 3, "date": 7, "hours": 8, "minutes": 55, "seconds": 28},
            {"year": 2023, "month": 3, "date": 7, "hours": 15, "minutes": 31, "seconds": 18}
          ]}
        }
      },
      "layer": [
        {
          "transform": [{"filter": "datum.n == null"}],
          "layer": [
            {
              "mark": {"type": "rule", "strokeWidth": 1.2},
              "encoding": {
                "y": {"field": "l", "type": "quantitative", "axis": null, "scale": {"domain": [4809, 5946], "nice": false, "zero": false}},
                "y2": {"field": "h"},
                "color": {"field": "dir", "type": "nominal", "scale": {"domain": ["up", "down"], "range": ["#FF0000", "#0000FF"]}, "legend": null}
              }
            },
            {
              "mark": {"type": "rule", "strokeWidth": 2.4, "strokeCap": "square"},
              "encoding": {
                "y": {"field": "o", "type": "quantitative"},
                "y2": {"field": "c"},
                "color": {"field": "dir", "type": "nominal", "scale": {"domain": ["up", "down"], "range": ["#FF0000", "#0000FF"]}, "legend": null}
              }
            }
          ]
        },
        {
          "transform": [{"filter": "datum.n == null"}],
          "mark": {"type": "rule", "strokeWidth": 1.4, "opacity": 0.3},
          "encoding": {
            "y": {"field": "v", "type": "quantitative", "axis": null, "scale": {"domain": [-3600, 680800], "nice": false, "zero": false}},
            "y2": {"datum": 0},
            "color": {"field": "vdir", "type": "nominal", "scale": {"domain": ["up", "down"], "range": ["#FF0000", "#0000FF"]}, "legend": null}
          }
        },
        {
          "transform": [{"filter": "datum.n == '5'"}],
          "mark": {"type": "tick", "orient": "vertical", "thickness": 5, "size": 60, "color": "#FFFFFF", "stroke": "#333333", "strokeWidth": 1, "opacity": 1},
          "encoding": {
            "x": {"datum": {"year": 2023, "month": 3, "date": 7, "hours": 8, "minutes": 56, "seconds": 40}}
          }
        },
        {
          "transform": [{"filter": "datum.n == '5'"}],
          "mark": {"type": "tick", "orient": "vertical", "thickness": 5, "size": 60, "color": "#FFFFFF", "stroke": "#333333", "strokeWidth": 1, "opacity": 1},
          "encoding": {
            "x": {"datum": {"year": 2023, "month": 3, "date": 7, "hours": 15, "minutes": 30, "seconds": 6}}
          }
        }
      ],
      "resolve": {"scale": {"y": "independent", "color": "shared"}}
    }
  ],
  "config": {
    "view": {"fill": "#E5ECF6", "stroke": null},
    "axis": {
      "labelFont": "DejaVu Sans",
      "titleFont": "DejaVu Sans",
      "labelColor": "#2a3f5f",
      "titleColor": "#2a3f5f",
      "labelFontSize": 12,
      "domain": false,
      "ticks": false,
      "tickSize": 0
    }
  }
}
